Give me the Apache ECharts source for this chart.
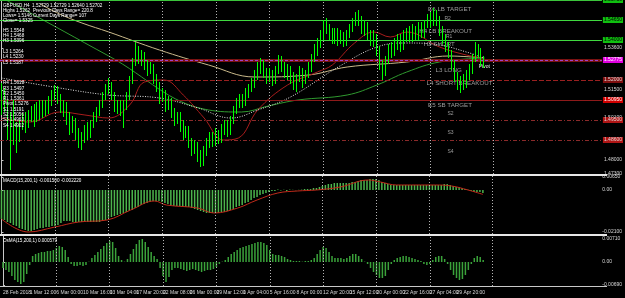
<!DOCTYPE html>
<html><head><meta charset="utf-8">
<script src="https://cdn.jsdelivr.net/npm/echarts@6/dist/echarts.min.js"></script>
<style>html,body{margin:0;padding:0;background:#000;}#c{width:625px;height:298px;}</style>
</head><body><div id="c"></div>
<script>
// ---------- DATA ----------
const tickLabels = ['28 Feb 2018','1 Mar 12:00','6 Mar 00:00','10 Mar 16:00','13 Mar 04:00','17 Mar 20:00','22 Mar 08:00','26 Mar 00:00','29 Mar 12:00','1 Apr 04:00','5 Apr 16:00','8 Apr 00:00','12 Apr 20:00','15 Apr 12:00','20 Apr 00:00','22 Apr 16:00','27 Apr 04:00','29 Apr 20:00'];
const open = [1.505,1.5125,1.5075,1.4975,1.501,1.496,1.491,1.4975,1.501,1.499,
1.5025,1.504,1.501,1.506,1.504,1.508,1.505,1.510,1.5125,1.516,
1.511,1.506,1.5075,1.501,1.496,1.499,1.4925,1.489,1.491,1.495,
1.493,1.4975,1.501,1.504,1.508,1.512,1.516,1.518,1.512,1.506,
1.508,1.505,1.507,1.512,1.520,1.529,1.535,1.531,1.5325,1.528,
1.525,1.527,1.521,1.517,1.511,1.513,1.507,1.509,1.504,1.500,
1.502,1.497,1.493,1.495,1.489,1.485,1.487,1.482,1.479,1.484,
1.488,1.491,1.489,1.493,1.490,1.495,1.497,1.494,1.500,1.505,
1.508,1.511,1.509,1.513,1.516,1.518,1.522,1.526,1.528,1.524,
1.521,1.523,1.520,1.525,1.530,1.527,1.523,1.525,1.521,1.518,
1.521,1.524,1.520,1.523,1.526,1.531,1.535,1.539,1.542,1.548,
1.546,1.543,1.541,1.544,1.540,1.542,1.539,1.543,1.546,1.549,
1.552,1.550,1.546,1.548,1.543,1.540,1.542,1.535,1.528,1.524,
1.530,1.536,1.534,1.538,1.540,1.537,1.542,1.544,1.541,1.545,
1.542,1.546,1.543,1.548,1.551,1.549,1.553,1.550,1.545,1.541,
1.537,1.533,1.528,1.522,1.517,1.520,1.518,1.522,1.525,1.531,
1.536,1.534,1.530];
const close = [1.5125,1.5075,1.4975,1.501,1.496,1.491,1.4975,1.501,1.499,1.5025,
1.504,1.501,1.506,1.504,1.508,1.505,1.510,1.5125,1.516,1.511,
1.506,1.5075,1.501,1.496,1.499,1.4925,1.489,1.491,1.495,1.493,
1.4975,1.501,1.504,1.508,1.512,1.516,1.518,1.512,1.506,1.508,
1.505,1.507,1.512,1.520,1.529,1.535,1.531,1.5325,1.528,1.525,
1.527,1.521,1.517,1.511,1.513,1.507,1.509,1.504,1.500,1.502,
1.497,1.493,1.495,1.489,1.485,1.487,1.482,1.479,1.484,1.488,
1.491,1.489,1.493,1.490,1.495,1.497,1.494,1.500,1.505,1.508,
1.511,1.509,1.513,1.516,1.518,1.522,1.526,1.528,1.524,1.521,
1.523,1.520,1.525,1.530,1.527,1.523,1.525,1.521,1.518,1.521,
1.524,1.520,1.523,1.526,1.531,1.535,1.539,1.542,1.548,1.546,
1.543,1.541,1.544,1.540,1.542,1.539,1.543,1.546,1.549,1.552,
1.550,1.546,1.548,1.543,1.540,1.542,1.535,1.528,1.524,1.530,
1.536,1.534,1.538,1.540,1.537,1.542,1.544,1.541,1.545,1.542,
1.546,1.543,1.548,1.551,1.549,1.553,1.550,1.545,1.541,1.537,
1.533,1.528,1.522,1.517,1.520,1.518,1.522,1.525,1.531,1.536,
1.534,1.530,1.527];
const low = [1.5025,1.504,1.490,1.475,1.4875,1.4835,1.489,1.495,1.4935,1.496,
1.499,1.4965,1.499,1.500,1.501,1.502,1.503,1.507,1.510,1.508,
1.5035,1.5015,1.4975,1.4925,1.4935,1.490,1.486,1.485,1.4885,1.490,
1.491,1.496,1.499,1.502,1.506,1.510,1.513,1.510,1.504,1.503,
1.502,1.496,1.505,1.510,1.518,1.527,1.528,1.527,1.525,1.522,
1.523,1.518,1.514,1.508,1.509,1.504,1.505,1.501,1.497,1.498,
1.494,1.490,1.491,1.486,1.482,1.483,1.479,1.4765,1.477,1.482,
1.486,1.4865,1.487,1.488,1.4885,1.4925,1.4915,1.4925,1.498,1.503,
1.506,1.506,1.507,1.511,1.514,1.516,1.520,1.523,1.521,1.518,
1.519,1.517,1.518,1.523,1.524,1.521,1.520,1.518,1.515,1.514,
1.519,1.516,1.518,1.521,1.524,1.529,1.532,1.536,1.540,1.543,
1.540,1.538,1.538,1.537,1.538,1.5365,1.537,1.541,1.544,1.547,
1.547,1.543,1.542,1.540,1.537,1.5365,1.532,1.525,1.520,1.522,
1.528,1.531,1.532,1.535,1.534,1.535,1.539,1.539,1.539,1.540,
1.540,1.541,1.541,1.546,1.546,1.547,1.547,1.542,1.538,1.534,
1.531,1.525,1.519,1.515,1.5135,1.515,1.516,1.520,1.523,1.529,
1.531,1.527,1.526];
const high = [1.5185,1.516,1.510,1.504,1.510,1.499,1.500,1.5035,1.504,1.505,
1.507,1.508,1.509,1.510,1.510,1.510,1.512,1.515,1.5175,1.517,
1.513,1.510,1.509,1.504,1.502,1.501,1.496,1.494,1.4975,1.499,
1.500,1.504,1.5065,1.510,1.514,1.518,1.521,1.519,1.514,1.510,
1.510,1.510,1.514,1.522,1.531,1.539,1.537,1.535,1.534,1.530,
1.529,1.528,1.523,1.519,1.516,1.515,1.512,1.511,1.506,1.504,
1.504,1.500,1.497,1.497,1.491,1.490,1.489,1.485,1.487,1.491,
1.494,1.494,1.496,1.495,1.498,1.500,1.500,1.502,1.507,1.511,
1.513,1.513,1.516,1.518,1.521,1.525,1.529,1.531,1.530,1.526,
1.526,1.525,1.527,1.5325,1.532,1.529,1.528,1.527,1.524,1.523,
1.527,1.526,1.525,1.529,1.533,1.538,1.541,1.545,1.550,1.551,
1.548,1.546,1.546,1.546,1.545,1.544,1.545,1.548,1.551,1.554,
1.555,1.552,1.550,1.549,1.545,1.545,1.543,1.537,1.530,1.532,
1.538,1.539,1.541,1.543,1.543,1.545,1.546,1.547,1.548,1.547,
1.549,1.549,1.550,1.553,1.554,1.556,1.555,1.552,1.547,1.543,
1.539,1.535,1.530,1.524,1.522,1.523,1.525,1.528,1.533,1.539,
1.538,1.536,1.532];
// moving averages: [bar index, price]
const maTan = [[13,1.558],[19.5,1.553],[27,1.5485],[36,1.544],[53,1.535],[69.5,1.5275],[85,1.5215],[103,1.5225],[116,1.5265],[136,1.529],[150,1.532],[162,1.531]];
const maGreen = [[2,1.5595],[6,1.5565],[36,1.532],[69.5,1.505],[80.5,1.504],[89.5,1.507],[99.5,1.510],[116,1.5125],[126,1.5175],[136,1.524],[147,1.529],[162,1.531]];
const maRed = [[0,1.501],[9.5,1.499],[19.5,1.504],[28,1.5025],[36,1.501],[43,1.5075],[48,1.519],[54.5,1.520],[61,1.5125],[68,1.501],[74.5,1.490],[79.5,1.491],[86,1.505],[96,1.5175],[106,1.524],[111,1.5275],[118.5,1.5385],[125,1.544],[130.5,1.5415],[136,1.544],[147,1.5365],[156,1.5325],[162,1.531]];
const maWhite = [[0,1.521],[19.5,1.516],[36,1.5125],[53,1.511],[66,1.506],[77,1.501],[86,1.505],[97,1.5115],[113,1.5265],[126,1.5365],[136,1.5385],[147,1.5375],[156,1.534],[162,1.531]];
const macdHist = [-0.0145,-0.015,-0.016,-0.0165,-0.0175,-0.018,-0.019,-0.0195,-0.02,-0.0205,
-0.0205,-0.02,-0.0195,-0.019,-0.019,-0.0185,-0.0185,-0.018,-0.018,-0.0175,
-0.0165,-0.0155,-0.0155,-0.0155,-0.016,-0.016,-0.016,-0.016,-0.016,-0.016,
-0.016,-0.016,-0.016,-0.016,-0.0155,-0.015,-0.014,-0.0135,-0.013,-0.0125,
-0.012,-0.0115,-0.011,-0.0105,-0.01,-0.009,-0.0085,-0.0075,-0.007,-0.0065,
-0.006,-0.0055,-0.0055,-0.0055,-0.006,-0.0065,-0.007,-0.0075,-0.008,-0.008,
-0.008,-0.0085,-0.0085,-0.0085,-0.009,-0.0095,-0.01,-0.0105,-0.011,-0.0115,
-0.0115,-0.0115,-0.0115,-0.0115,-0.011,-0.011,-0.0105,-0.01,-0.0095,-0.0085,
-0.008,-0.0075,-0.0065,-0.006,-0.005,-0.004,-0.0035,-0.0025,-0.002,-0.0015,
-0.001,-0.0005,-0.0005,0.0002,-0.0002,0.0001,-0.0005,0.0002,0.0001,-0.0001,
0.0001,0.0002,0.0005,0.0005,0.0005,0.001,0.001,0.0015,0.002,0.0025,
0.003,0.003,0.0035,0.0035,0.0035,0.0035,0.0035,0.0035,0.004,0.004,
0.0045,0.005,0.005,0.005,0.0055,0.0055,0.0055,0.005,0.004,0.0035,
0.003,0.0025,0.0025,0.0025,0.0025,0.0025,0.0025,0.0025,0.0025,0.0025,
0.0025,0.0025,0.0025,0.0025,0.0025,0.0025,0.0025,0.0025,0.0025,0.003,
0.003,0.0025,0.002,0.0015,0.0015,0.001,0.0005,0.0001,-0.0005,-0.001,
-0.001,-0.001,-0.0015];
const macdSignal = [[0,-0.0145],[9,-0.021],[18,-0.0185],[26,-0.016],[35.5,-0.015],[43.5,-0.010],[51.5,-0.0055],[55.5,-0.0075],[66,-0.009],[71.5,-0.0115],[79.5,-0.009],[86,-0.005],[93,-0.0015],[99.5,-0.0005],[106,0],[114,0.0015],[123.5,0.005],[127.5,0.004],[133,0.0025],[146,0.0025],[151.5,0.002],[157,0],[162,-0.0022]];
const osma = [-0.0018,-0.0024,-0.003,-0.0042,-0.0054,-0.006,-0.0066,-0.006,-0.0036,-0.0009,
0.0018,0.0024,0.0027,0.003,0.003,0.0033,0.0033,0.0036,0.0042,0.0048,
0.0045,0.0036,0.0015,-0.0006,-0.0012,-0.0012,-0.0009,-0.0012,-0.0009,0.0001,
0.0012,0.0021,0.003,0.0039,0.0048,0.0057,0.0063,0.006,0.0042,0.0018,
0.0006,0.0001,0.0009,0.0024,0.0039,0.0054,0.0066,0.0069,0.006,0.0045,
0.003,0.0018,0.0009,-0.0018,-0.0042,-0.006,-0.0045,-0.0024,-0.0018,-0.0018,
-0.0021,-0.0024,-0.0027,-0.0024,-0.0021,-0.0024,-0.0027,-0.003,-0.0027,-0.0024,
-0.0024,-0.0021,-0.0015,-0.0006,0.0001,0.0006,0.0015,0.0024,0.003,0.0036,
0.0042,0.0045,0.0048,0.0051,0.0054,0.0057,0.006,0.006,0.0057,0.0051,
0.0036,0.0024,0.0021,0.0021,0.0018,0.0015,0.0009,0.0006,0.0003,0.0003,
0.0003,0.0001,0.0003,0.0003,0.0006,0.0012,0.0024,0.0036,0.0045,0.0042,
0.003,0.0018,0.0012,0.0012,0.0012,0.0009,0.0012,0.0018,0.0024,0.0024,
0.0018,0.0009,0.0001,-0.0006,-0.0018,-0.003,-0.0039,-0.0048,-0.0048,-0.0042,
-0.0024,-0.0006,0.0006,0.0012,0.0015,0.0018,0.0018,0.0015,0.0012,0.0009,
0.0006,0.0003,-0.0006,-0.0009,-0.0006,0.0006,0.0015,0.0018,0.0018,0.0009,
-0.0006,-0.0024,-0.0039,-0.0048,-0.0054,-0.0051,-0.0039,-0.0024,-0.0006,0.0012,
0.0018,0.0015,0.0006];
const levelPrices = [1.5575,1.5525,1.5465,1.5430,1.5400,1.5268,1.52775,1.5200,1.5095,1.5045,1.4950,1.4860];
const priceTicks = [1.5500,1.5360,1.5150,1.5010,1.4800,1.4730];
const macdTicks = [0.0065,0,-0.021];
const osmaTicks = [0.0071,0,-0.0069];
const gridBars = [18,36,54,72,90,108,126,144,165];
const annoText = ['E6 LB TARGET','R2','H4 LB BREAKOUT','R1','H3 SHORT','Pivot','L3 LONG','L4 SHORT BREAKOUT','E5 SB TARGET','S2','S3','S4'];
const annoBar = [143,148.5,140,149,141.5,160,145.5,142.5,143,149.5,149.5,149.5];
const annoPrice = [1.5555,1.5505,1.5445,1.5415,1.538,1.5265,1.525,1.5185,1.5075,1.503,1.4935,1.484];
const infoLines = ['GBPUSD,H4  1.52729 1.52729 1.52640 1.52702','Highs 1.5262','Lows= 1.5146','Close= 1.5325'];
const infoRight = ['Previous Days Range= 220.8','Current Days Range= 107'];
const pivotList1 = ['H5 1.5548','H4 1.5468','H3 1.5396','','L3 1.5264','L4 1.5230','L5 1.5187'];
const pivotList2 = ['R4 1.5618','R3 1.5497','R2 1.5450','R1 1.5361','Pivot 1.5276','S1 1.5191','S2 1.5056','S3 1.4963','S4 1.4902'];

// ---------- STYLES ----------
const FONT = 'Liberation Sans';
const levelStyles = [
 {c:'#3bc43b',t:'solid',w:1,bg:'#10c010',tc:'#000'},
 {c:'#777777',t:[2,2],w:1,bg:'#3d5a3d',tc:'#ddd'},
 {c:'#3fd83f',t:'solid',w:1,bg:'#10c010',tc:'#000'},
 {c:'#6a8a6a',t:[4,2,1,2],w:1,bg:'#3d5a3d',tc:'#ddd'},
 {c:'#3fd83f',t:'solid',w:1,bg:'#10c010',tc:'#000'},
 {c:'#7a1212',t:'solid',w:3,bg:'#d00000',tc:'#fff'},
 {c:'#a040c8',t:[3,2],w:1,bg:'#e000e0',tc:'#fff'},
 {c:'#9a2020',t:[5,2],w:1,bg:'#801010',tc:'#ddd'},
 {c:'#8e1a1a',t:'solid',w:1,bg:'#d00000',tc:'#fff'},
 {c:'#8a2a2a',t:[4,2,1,2],w:1,bg:'#901515',tc:'#ddd'},
 {c:'#8a2a2a',t:[4,2,1,2],w:1,bg:'#b01515',tc:'#ddd'},
 {c:'#8a2a2a',t:[4,2,1,2],w:1,bg:'#b01515',tc:'#ddd'}
];

const SLOTS = 202;
const cats = Array.from({length: SLOTS}, (_, i) => i);
const candle = open.map((o, i) => [o, close[i], low[i], high[i]]);
const vLines = gridBars.map(b => ({xAxis: b}));
const vLineOpt = {silent:true, symbol:['none','none'], label:{show:false}, lineStyle:{color:'#b4b4b4', type:[1,2], width:1}, data:vLines, animation:false};

const chart = echarts.init(document.getElementById('c'));
const axCat = (g, showLabels) => ({
  type:'category', gridIndex:g, data:cats, boundaryGap:true,
  axisLine:{show:false}, axisTick:{show:false}, splitLine:{show:false},
  axisLabel: showLabels ? {
    show:true, interval:0, align:'left', margin:4, color:'#d8d8d8', fontSize:5, fontFamily:FONT,
    formatter:(v, i) => (i % 9 === 0 && tickLabels[i/9]) ? tickLabels[i/9] : ''
  } : {show:false}
});
const axVal = g => ({type:'value', gridIndex:g, min:-0.5, max:SLOTS-0.5, show:false});
const axY = (g, min, max, ticks, fmt) => ({
  type:'value', gridIndex:g, position:'right', min, max, scale:true,
  axisLine:{show:true, lineStyle:{color:'#c8c8c8', width:1}},
  axisTick:{show:true, length:2, customValues:ticks, lineStyle:{color:'#c8c8c8'}},
  splitLine:{show:false},
  axisLabel:{show:true, customValues:ticks, margin:2, color:'#d8d8d8', fontSize:5, fontFamily:FONT, formatter:fmt}
});

const g = [];
g.push({type:'rect', shape:{x:0,y:174,width:607,height:2}, style:{fill:'#e6e6e6'}, z:100});
g.push({type:'rect', shape:{x:0,y:234,width:607,height:2}, style:{fill:'#e6e6e6'}, z:100});
g.push({type:'rect', shape:{x:0,y:286,width:607,height:1}, style:{fill:'#c8c8c8'}, z:100});
infoLines.forEach((t, i) => g.push({type:'text', x:3, y:3 + i*5.2, style:{text:t, fill:'#fff', font:'4.6px ' + FONT}, z:101}));
infoRight.forEach((t, i) => g.push({type:'text', x:33, y:8.2 + i*5.2, style:{text:t, fill:'#fff', font:'4.6px ' + FONT}, z:101}));
pivotList1.forEach((t, i) => g.push({type:'text', x:3, y:28 + i*5.3, style:{text:t, fill:'#fff', font:'4.6px ' + FONT}, z:101}));
pivotList2.forEach((t, i) => g.push({type:'text', x:3, y:80.5 + i*5.3, style:{text:t, fill:'#fff', font:'4.6px ' + FONT}, z:101}));
g.push({type:'text', x:3, y:178, style:{text:'MACD(15,200,1) -0.001500 -0.002220', fill:'#fff', font:'4.6px ' + FONT}, z:101});
g.push({type:'text', x:3, y:238, style:{text:'OsMA(15,200,1) 0.000579', fill:'#fff', font:'4.6px ' + FONT}, z:101});

const option = {
  backgroundColor:'#000',
  animation:false,
  grid:[
    {left:0, top:0, width:606, height:174},
    {left:0, top:176, width:606, height:58},
    {left:0, top:236, width:606, height:50}
  ],
  xAxis:[axCat(0,false), axCat(1,false), axCat(2,true), axVal(0), axVal(1), axVal(2)],
  yAxis:[
    axY(0, 1.4730, 1.5600, priceTicks, v => v.toFixed(5)),
    axY(1, -0.022, 0.007, macdTicks, v => v === 0 ? '0.00' : v.toFixed(5)),
    axY(2, -0.0072, 0.0078, osmaTicks, v => v === 0 ? '0.00' : v.toFixed(5))
  ],
  graphic:g,
  series:[
    {type:'line', xAxisIndex:3, yAxisIndex:0, data:maTan, smooth:0.4, symbol:'none', z:2,
     lineStyle:{color:'#c9b98a', width:1}, markLine:vLineOpt},
    {type:'line', xAxisIndex:3, yAxisIndex:0, data:maGreen, smooth:0.4, symbol:'none', z:2,
     lineStyle:{color:'#2f9a2f', width:1}},
    {type:'line', xAxisIndex:3, yAxisIndex:0, data:maRed, smooth:0.4, symbol:'none', z:2,
     lineStyle:{color:'#a81c1c', width:1}},
    {type:'line', xAxisIndex:3, yAxisIndex:0, data:maWhite, smooth:0.4, symbol:'none', z:2,
     lineStyle:{color:'#e6e6e6', width:1, type:[1,1.5]},
     markPoint:{silent:true, animation:false, data:annoText.map((t, i) => ({
       coord:[annoBar[i], annoPrice[i]], symbol:'circle', symbolSize:1, itemStyle:{color:'rgba(0,0,0,0)'},
       label:{show:true, position:'right', distance:0, formatter:t, color: t === 'Pivot' ? '#e8e8e8' : '#9c9c9c', fontSize: t.length <= 5 ? 5 : 6.2, fontFamily:FONT}
     }))}},
    {type:'candlestick', xAxisIndex:0, yAxisIndex:0, data:candle, barWidth:1, z:5,
     itemStyle:{color:'#000', color0:'#00ff00', borderColor:'#00ff00', borderColor0:'#00ff00', borderWidth:1},
     markLine:{silent:true, animation:false, symbol:['none','none'], z:3,
       data: levelPrices.map((p, i) => ({
         yAxis:p,
         lineStyle:{color:levelStyles[i].c, type:levelStyles[i].t, width:levelStyles[i].w},
         label:{show:true, position:'end', distance:1, formatter:p.toFixed(5), backgroundColor:levelStyles[i].bg,
                color:levelStyles[i].tc, fontSize:5, fontFamily:FONT, padding:[1,1,0,1]}
       }))}},
    {type:'bar', xAxisIndex:1, yAxisIndex:1, data:macdHist, barWidth:1.5, itemStyle:{color:'#4cb44c'}},
    {type:'line', xAxisIndex:4, yAxisIndex:1, data:macdSignal, smooth:0.4, symbol:'none',
     lineStyle:{color:'#c02a1a', width:1}, markLine:vLineOpt},
    {type:'bar', xAxisIndex:2, yAxisIndex:2, data:osma, barWidth:1.5, itemStyle:{color:'#3aa23a'}, markLine:vLineOpt}
  ]
};
chart.setOption(option);
</script></body></html>
